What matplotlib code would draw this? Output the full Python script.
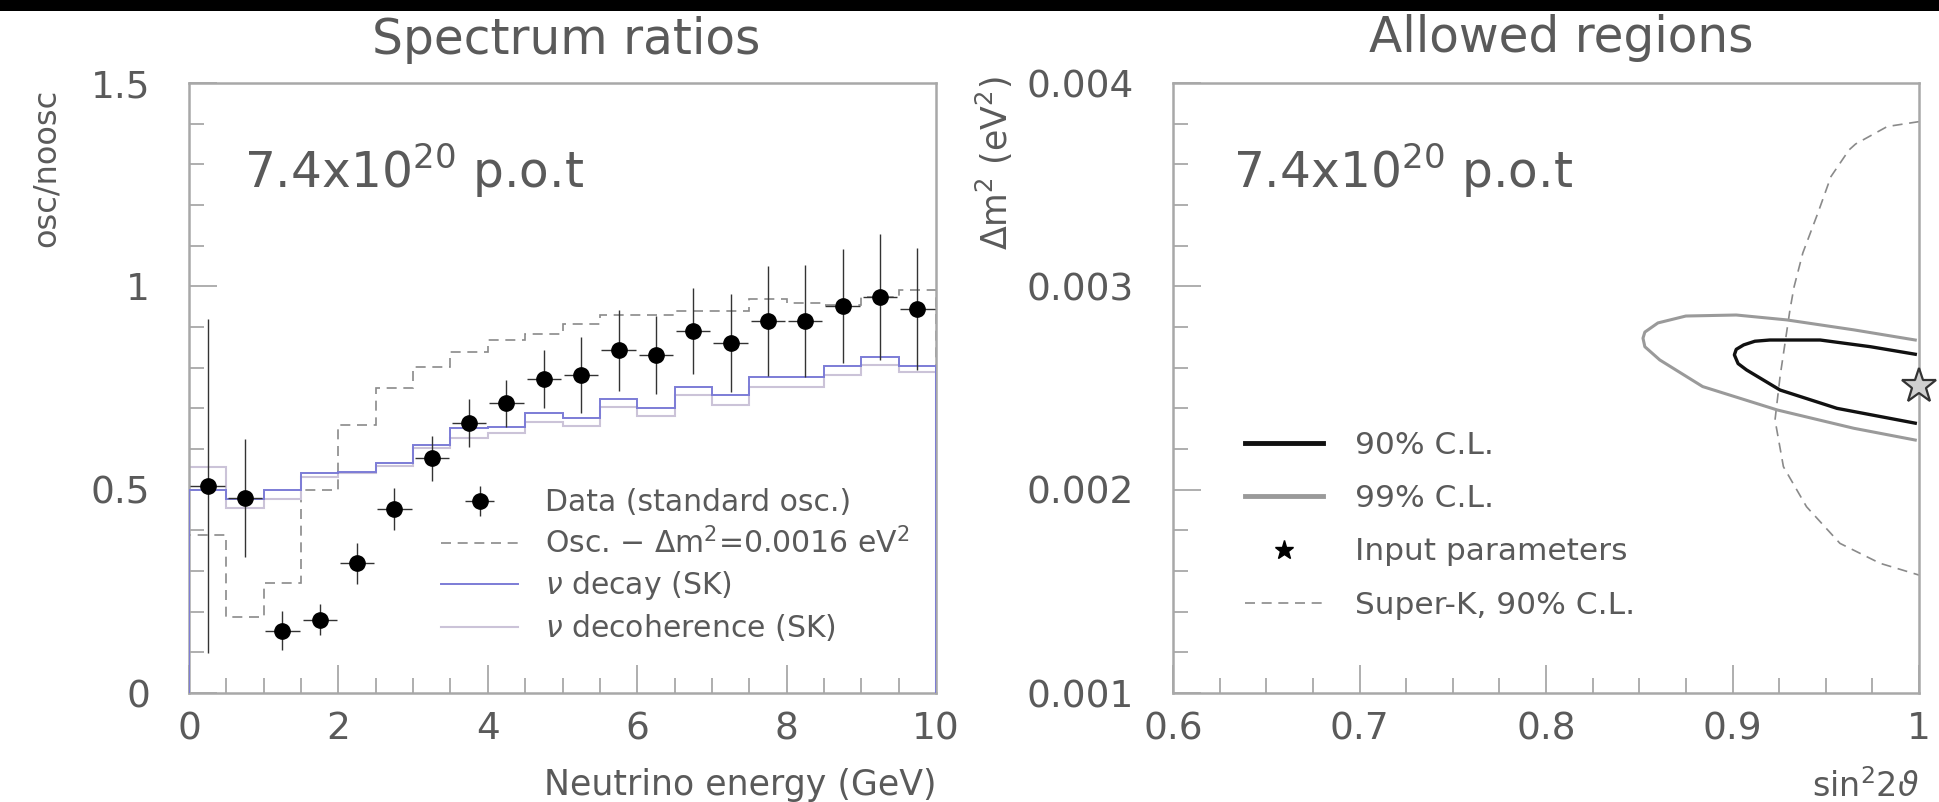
import matplotlib
matplotlib.use("Agg")
import matplotlib.pyplot as plt
from matplotlib.lines import Line2D
from matplotlib.patches import Rectangle
from matplotlib.ticker import FixedLocator

plt.rcParams['font.family'] = ['DejaVu Sans']

# ---------------- data: left panel ----------------
bin_edges = [0.0, 0.5, 1.0, 1.5, 2.0, 2.5, 3.0, 3.5, 4.0, 4.5, 5.0,
             5.5, 6.0, 6.5, 7.0, 7.5, 8.0, 8.5, 9.0, 9.5, 10.0]
bin_centers = [0.25, 0.75, 1.25, 1.75, 2.25, 2.75, 3.25, 3.75, 4.25, 4.75,
               5.25, 5.75, 6.25, 6.75, 7.25, 7.75, 8.25, 8.75, 9.25, 9.75]
data_ratio = [0.509, 0.479, 0.153, 0.180, 0.319, 0.453, 0.577, 0.664, 0.712, 0.772,
              0.782, 0.843, 0.831, 0.890, 0.861, 0.915, 0.915, 0.951, 0.973, 0.945]
data_err = [0.41, 0.145, 0.048, 0.038, 0.05, 0.052, 0.056, 0.058, 0.058, 0.072,
            0.094, 0.10, 0.096, 0.106, 0.12, 0.135, 0.137, 0.14, 0.155, 0.15]
data_xerr = [0.23] * 20
osc_0016 = [0.389, 0.186, 0.270, 0.499, 0.660, 0.751, 0.802, 0.839, 0.869, 0.884,
            0.907, 0.929, 0.929, 0.939, 0.939, 0.970, 0.960, 0.955, 0.974, 0.991]
nu_decay = [0.50, 0.477, 0.499, 0.540, 0.544, 0.565, 0.610, 0.651, 0.655, 0.688,
            0.677, 0.722, 0.700, 0.753, 0.733, 0.776, 0.776, 0.804, 0.827, 0.804]
nu_decoh = [0.556, 0.455, 0.476, 0.532, 0.540, 0.557, 0.602, 0.627, 0.639, 0.667,
            0.656, 0.704, 0.680, 0.734, 0.708, 0.753, 0.753, 0.782, 0.806, 0.790]

# ---------------- data: right panel ----------------
cl90_x = [0.998, 0.974, 0.947, 0.920, 0.912, 0.906, 0.902, 0.901, 0.903, 0.9075,
          0.9255, 0.956, 0.998]
cl90_y = [0.002666, 0.002703, 0.002736, 0.002736, 0.00273, 0.002712, 0.00269,
          0.002663, 0.00262, 0.002589, 0.00249, 0.0024, 0.002327]
cl99_x = [0.998, 0.965, 0.929, 0.902, 0.875, 0.860, 0.853, 0.852, 0.853, 0.861,
          0.884, 0.924, 0.965, 0.998]
cl99_y = [0.002736, 0.002786, 0.002835, 0.002859, 0.002854, 0.00282, 0.002775,
          0.002745, 0.002703, 0.002638, 0.002507, 0.002392, 0.002302, 0.002244]
sk_x = [1.0, 0.983, 0.966, 0.9625, 0.9528, 0.9458, 0.9377, 0.933, 0.9308, 0.9255,
        0.9228, 0.9273, 0.9397, 0.9576, 0.9791, 1.0]
sk_y = [0.00381, 0.003786, 0.00370, 0.003671, 0.00354, 0.003361, 0.003164, 0.002997,
        0.002884, 0.002556, 0.002343, 0.002113, 0.001916, 0.001736, 0.001638, 0.00158]
input_x = [1.0]
input_y = [0.00251]

left_xticks = [0, 2, 4, 6, 8, 10]
left_xticklabels = ["0", "2", "4", "6", "8", "10"]
left_yticks = [0, 0.5, 1, 1.5]
left_yticklabels = ["0", "0.5", "1", "1.5"]
right_xticks = [0.6, 0.7, 0.8, 0.9, 1.0]
right_xticklabels = ["0.6", "0.7", "0.8", "0.9", "1"]
right_yticks = [0.001, 0.002, 0.003, 0.004]
right_yticklabels = ["0.001", "0.002", "0.003", "0.004"]

TXT = "#5a5a5a"
FRAME = "#a8a8a8"
BLUE = "#7c7cd6"
LIGHT = "#cbc3d8"
DASH = "#8a8a8a"

W, H = 1939, 802
fig = plt.figure(figsize=(W / 100, H / 100), dpi=100)
fig.patch.set_facecolor("white")
fig.patches.append(Rectangle((0, 1 - 11 / H), 1, 11 / H, transform=fig.transFigure,
                             facecolor="black", edgecolor="none", zorder=10))

ax1 = fig.add_axes([189 / W, 1 - 693 / H, 747 / W, 610 / H])
ax2 = fig.add_axes([1173 / W, 1 - 693 / H, 746 / W, 610 / H])


def style(ax):
    for s in ax.spines.values():
        s.set_color(FRAME)
        s.set_linewidth(1.8)
    ax.tick_params(which="both", direction="in", color=FRAME, width=1.3,
                   labelcolor=TXT, labelsize=27, top=False, right=False)
    ax.tick_params(which="major", length=20)
    ax.tick_params(which="minor", length=11)
    ax.tick_params(axis="y", pad=28)
    ax.tick_params(axis="x", pad=13)


# ---------------- left panel ----------------
style(ax1)
ax1.stairs(osc_0016, bin_edges, color=DASH, lw=1.2, ls=(0, (6, 4)), zorder=2)
ax1.stairs(nu_decoh, bin_edges, color=LIGHT, lw=1.5, zorder=2)
ax1.stairs(nu_decay, bin_edges, color=BLUE, lw=1.4, zorder=3)
ax1.errorbar(bin_centers, data_ratio, yerr=data_err, xerr=data_xerr, fmt="o",
             color="black", ms=11, elinewidth=1.0, ecolor="#333333", capsize=0,
             zorder=5)
ax1.set_xlim(0, 10)
ax1.set_ylim(0, 1.5)
ax1.xaxis.set_major_locator(FixedLocator(left_xticks))
ax1.set_xticklabels(left_xticklabels)
ax1.xaxis.set_minor_locator(FixedLocator(bin_edges))
ax1.yaxis.set_major_locator(FixedLocator(left_yticks))
ax1.set_yticklabels(left_yticklabels)
ax1.yaxis.set_minor_locator(FixedLocator([0.1, 0.2, 0.3, 0.4, 0.6, 0.7, 0.8, 0.9,
                                          1.1, 1.2, 1.3, 1.4]))

ax1.text(0.0735, 0.857, r"7.4x10$^{20}$ p.o.t", transform=ax1.transAxes,
         fontsize=35, color=TXT, ha="left", va="center")
ax1.text(-0.191, 0.99, "osc/noosc", transform=ax1.transAxes, rotation=90,
         fontsize=23, color=TXT, ha="center", va="top")
ax1.text(1.0, -0.151, "Neutrino energy (GeV)", transform=ax1.transAxes,
         fontsize=25, color=TXT, ha="right", va="center")
fig.text(566 / W, 1 - 40 / H, "Spectrum ratios", fontsize=35, color=TXT,
         ha="center", va="center")

h_data = ax1.errorbar([], [], yerr=[], xerr=[], fmt="o", color="black", ms=11,
                      elinewidth=1.0, ecolor="#333333", capsize=0)
h_osc = Line2D([], [], color=DASH, lw=1.2, ls=(0, (6, 4)))
h_dec = Line2D([], [], color=BLUE, lw=1.4)
h_dco = Line2D([], [], color=LIGHT, lw=1.5)
ax1.legend([h_data, h_osc, h_dec, h_dco],
           ["Data (standard osc.)", r"Osc. $-$ $\Delta$m$^2$=0.0016 eV$^2$",
            r"$\nu$ decay (SK)", r"$\nu$ decoherence (SK)"],
           loc="upper left", bbox_to_anchor=(0.338, 0.336), frameon=False,
           fontsize=21.5, labelcolor=TXT, handlelength=2.55, handletextpad=0.9,
           labelspacing=0.33, borderpad=0, borderaxespad=0)

# ---------------- right panel ----------------
style(ax2)
ax2.plot(sk_x, sk_y, color=DASH, lw=1.2, ls=(0, (6, 4)), zorder=2)
ax2.plot(cl99_x, cl99_y, color="#9a9a9a", lw=2.2, zorder=3)
ax2.plot(cl90_x, cl90_y, color="#111111", lw=2.4, zorder=4)
ax2.plot(input_x, input_y, ls="none", marker="*", ms=26, mfc="#d0d0d0",
         mec="#333333", mew=1.6, clip_on=False, zorder=6)
ax2.set_xlim(0.6, 1.0)
ax2.set_ylim(0.001, 0.004)
ax2.xaxis.set_major_locator(FixedLocator(right_xticks))
ax2.set_xticklabels(right_xticklabels)
ax2.xaxis.set_minor_locator(FixedLocator([0.625, 0.65, 0.675, 0.725, 0.75, 0.775,
                                          0.825, 0.85, 0.875, 0.925, 0.95, 0.975]))
ax2.yaxis.set_major_locator(FixedLocator(right_yticks))
ax2.set_yticklabels(right_yticklabels)
ax2.yaxis.set_minor_locator(FixedLocator([0.0012, 0.0014, 0.0016, 0.0018,
                                          0.0022, 0.0024, 0.0026, 0.0028,
                                          0.0032, 0.0034, 0.0036, 0.0038]))

ax2.text(0.08, 0.857, r"7.4x10$^{20}$ p.o.t", transform=ax2.transAxes,
         fontsize=35, color=TXT, ha="left", va="center")
ax2.text(-0.239, 1.01, r"$\Delta$m$^2$ (eV$^2$)", transform=ax2.transAxes,
         rotation=90, fontsize=25, color=TXT, ha="center", va="top")
ax2.text(1.0, -0.154, r"sin$^2$2$\vartheta$", transform=ax2.transAxes,
         fontsize=24, color=TXT, ha="right", va="center")
fig.text(1561 / W, 1 - 38 / H, "Allowed regions", fontsize=35, color=TXT,
         ha="center", va="center")

h90 = Line2D([], [], color="#111111", lw=3.5)
h99 = Line2D([], [], color="#9a9a9a", lw=3.5)
hstar = Line2D([], [], ls="none", marker="*", ms=14, color="black")
hsk = Line2D([], [], color=DASH, lw=1.2, ls=(0, (6, 4)))
ax2.legend([h90, h99, hstar, hsk],
           ["90% C.L.", "99% C.L.", "Input parameters", "Super-K, 90% C.L."],
           loc="upper left", bbox_to_anchor=(0.097, 0.43), frameon=False,
           fontsize=22.5, labelcolor=TXT, handlelength=2.5, handletextpad=1.0,
           labelspacing=0.78, borderpad=0, borderaxespad=0)

fig.savefig("out.png", dpi=100)
